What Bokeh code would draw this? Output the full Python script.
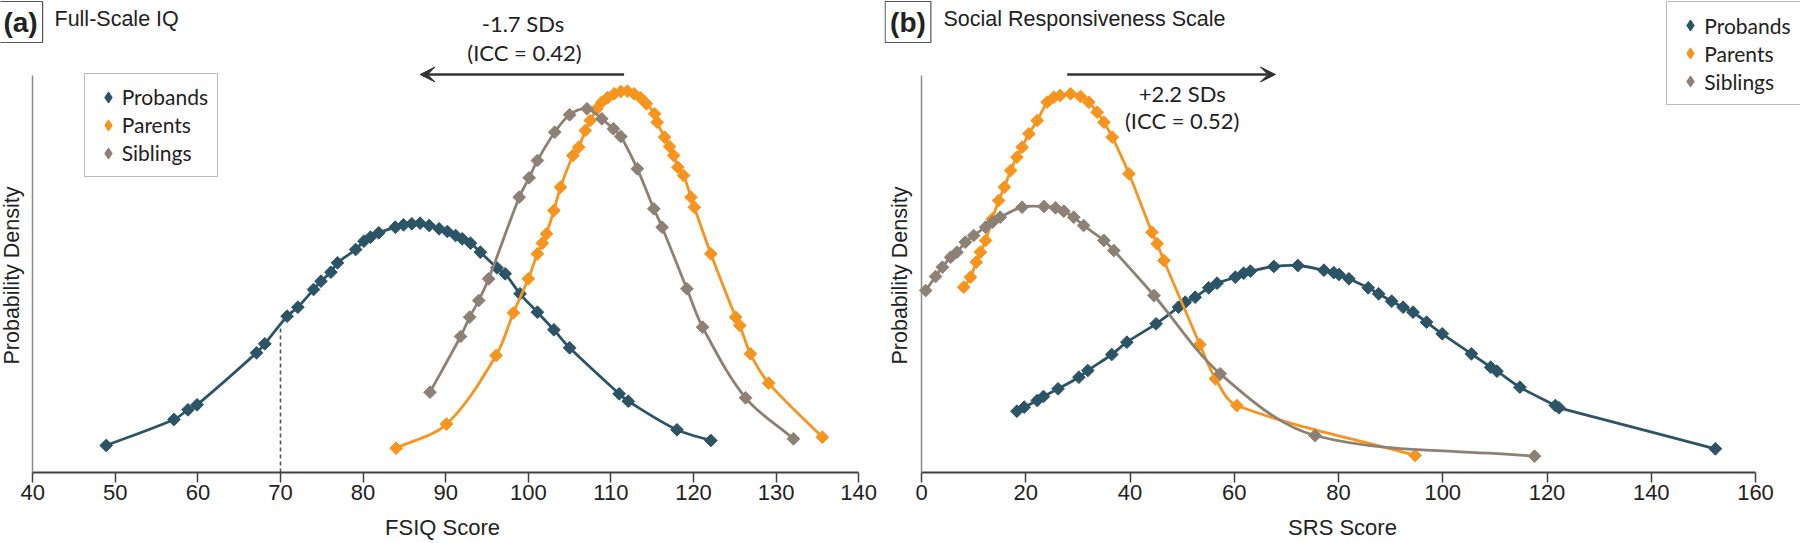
import numpy as np
from bokeh.plotting import figure
from bokeh.layouts import row
from bokeh.models import (Range1d, FixedTicker, Label, Arrow, VeeHead, Legend, LegendItem,
                          ColumnDataSource, CDSView, IndexFilter)
from bokeh.embed import file_html
from bokeh.resources import INLINE

# ---------------- data ----------------
# Panel (a) Full-Scale IQ
fsiq_probands_x = [48.9, 57.1, 58.8, 59.9, 67.1, 68.1, 70.8, 72.1, 74.0, 74.9, 76.1, 76.9, 79.1, 80.1,
                   80.9, 81.9, 83.9, 84.9, 85.9, 86.9, 88.0, 89.2, 90.2, 91.2, 92.0, 93.0, 94.2, 96.2,
                   97.2, 99.0, 101.1, 103.1, 105.0, 111.0, 112.1, 118.0, 122.1]
fsiq_probands_y = [27, 53, 62.7, 67.7, 119.7, 128.7, 156.3, 165.3, 183, 191.3, 200.3, 209.7, 223, 231.3,
                   235.3, 239.7, 245.3, 247.7, 248.7, 249.3, 247, 243.7, 241, 237, 233.7, 229.3, 220.3, 204.7,
                   198.7, 178.7, 160.3, 142.7, 124.7, 78.7, 71.3, 42.7, 32]
fsiq_parents_x = [84.0, 90.1, 96.1, 98.2, 100.0, 101.1, 101.7, 102.2, 103.1, 103.9, 105.4, 106.1, 106.9,
                  107.5, 108.3, 108.9, 109.6, 110.4, 111.2, 112.0, 112.8, 113.6, 114.3, 115.3, 115.6, 116.5,
                  117.1, 117.6, 118.1, 118.8, 119.7, 120.1, 122.1, 125.1, 125.6, 126.9, 129.1, 135.6]
fsiq_parents_y = [24.3, 48.4, 117, 159.7, 193.7, 218.7, 229.3, 238.7, 262, 285.3, 317, 325.3, 342,
                  352, 363.7, 370.3, 374.7, 378.7, 381, 381.3, 378.7, 374.7, 368.7, 358.7, 350.3, 335.3,
                  326, 317, 305.3, 297, 275.3, 265.3, 218.7, 155.3, 147, 118.7, 89.3, 35.3]
fsiq_siblings_x = [88.1, 91.8, 92.9, 94.0, 95.2, 98.9, 100.1, 101.1, 103.2, 105.0, 107.1, 108.9, 110.3,
                   111.2, 113.2, 115.2, 116.2, 119.2, 121.1, 126.3, 132.1]
fsiq_siblings_y = [80.3, 136, 155.3, 172, 193.7, 275.3, 294.7, 312, 340.3, 357.7, 363.7, 353.7, 343.7,
                   336, 303.7, 263.7, 245.3, 183.7, 145.3, 74.7, 33.7]
fsiq_cutoff_x = 70
fsiq_cutoff_y = 146
fsiq_shift = (111.6, 86.9)          # arrow from parents' mean toward probands' mean

# Panel (b) Social Responsiveness Scale
srs_probands_x = [18.3, 19.7, 22.2, 23.4, 26.2, 30.2, 31.9, 36.5, 39.4, 45.0, 49.3, 50.6, 52.5, 55.1,
                  56.7, 60.2, 61.8, 63.1, 67.6, 72.2, 77.2, 79.1, 80.1, 82.0, 85.7, 87.7, 90.2, 92.4,
                  94.3, 96.9, 99.9, 105.5, 109.2, 110.4, 114.8, 121.6, 122.3, 152.3]
srs_probands_y = [61.3, 65.3, 72, 76, 83.7, 95.3, 102, 118, 130.3, 148.7, 165.3, 170.3, 175.3, 184.7,
                  189.3, 195.3, 199.3, 201.3, 206, 207, 202.3, 199.8, 198, 193.7, 184.7, 178.7, 171.3, 165.3,
                  160.3, 150.3, 138.7, 118.7, 105.3, 101.3, 85.3, 67, 64.7, 23.7]
srs_parents_x = [8.1, 9.4, 10.5, 11.3, 12.3, 13.6, 14.8, 15.9, 17.1, 18.3, 19.3, 20.6, 22.2, 24.1, 25.4,
                 26.6, 28.6, 30.5, 32.1, 33.7, 35.0, 36.6, 39.8, 44.2, 45.2, 46.5, 53.4, 56.4, 60.5, 94.7]
srs_parents_y = [185.3, 195.3, 210.3, 220.3, 232, 253.7, 272, 285.3, 302, 315.3, 325.3, 338.7, 352, 370.3,
                 375.3, 377, 378.7, 376, 370.3, 360.3, 350.3, 335.3, 298.7, 240.3, 228.7, 212, 128, 93.7,
                 67, 17]
srs_siblings_x = [0.8, 2.7, 4.0, 5.6, 6.8, 8.4, 10.0, 12.3, 13.6, 15.1, 19.3, 23.5, 25.7, 27.3, 29.2, 31.1,
                  35.0, 36.9, 44.6, 57.3, 75.5, 117.6]
srs_siblings_y = [182, 196, 205.3, 215.3, 220.3, 230.3, 237, 245.3, 250.3, 255.3, 265.3, 266, 264.7, 261.3,
                  255.3, 247, 232, 222, 177, 98.7, 37, 16.3]
srs_shift = (27.95, 67.9)

fsiq_ticks = [40, 50, 60, 70, 80, 90, 100, 110, 120, 130, 140]
srs_ticks = [0, 20, 40, 60, 80, 100, 120, 140, 160]
groups = ["Probands", "Parents", "Siblings"]

# ---------------- styling / layout ----------------
TEAL, ORANGE, GREY = "#2b5566", "#f7941d", "#8c8174"
COLORS = [TEAL, ORANGE, GREY]
H = 543
AXIS_Y = 472               # pixel row of the x axis
Y_TOP = AXIS_Y             # 1 unit per pixel; frame spans whole canvas height above the axis
Y_AXIS_TOP = 397
ARROW_Y = 398
TXT = "#222222"


def bezier_params(xs, ys, kx, ky=1.0):
    x = np.asarray(xs, float)
    y = np.asarray(ys, float)
    X, Y = x * kx, y * ky
    d = np.maximum(np.hypot(np.diff(X), np.diff(Y)), 1e-6)
    n = len(X)
    tx = np.empty(n)
    ty = np.empty(n)
    tx[1:-1] = (X[2:] - X[:-2]) / (d[:-1] + d[1:])
    ty[1:-1] = (Y[2:] - Y[:-2]) / (d[:-1] + d[1:])
    tx[0], ty[0] = (X[1] - X[0]) / d[0], (Y[1] - Y[0]) / d[0]
    tx[-1], ty[-1] = (X[-1] - X[-2]) / d[-1], (Y[-1] - Y[-2]) / d[-1]
    cx0 = X[:-1] + tx[:-1] * d / 3
    cy0 = Y[:-1] + ty[:-1] * d / 3
    cx1 = X[1:] - tx[1:] * d / 3
    cy1 = Y[1:] - ty[1:] * d / 3
    return dict(x0=x[:-1], y0=y[:-1], x1=x[1:], y1=y[1:],
                cx0=cx0 / kx, cy0=cy0 / ky, cx1=cx1 / kx, cy1=cy1 / ky)


class Panel:
    def __init__(self, width, left_px, x0, kx, ticks, xlabel, series):
        # left_px: canvas pixel (within this figure) of data value x0; kx: px per unit
        self.left_px, self.x0, self.kx = left_px, x0, kx
        xr = (self.dx(0), self.dx(width))
        p = figure(width=width, height=H, x_range=Range1d(*xr), y_range=Range1d(0, Y_TOP),
                   output_backend="svg", toolbar_location=None,
                   min_border_left=0, min_border_right=0, min_border_top=0,
                   min_border_bottom=H - AXIS_Y)
        p.outline_line_color = None
        p.grid.visible = False
        xa = p.xaxis[0]
        xa.ticker = FixedTicker(ticks=ticks)
        xa.bounds = (ticks[0], ticks[-1])
        xa.axis_line_color = "#404040"
        xa.axis_line_width = 2
        xa.major_tick_line_color = "#404040"
        xa.major_tick_line_width = 1.5
        xa.major_tick_out = 10
        xa.major_tick_in = 0
        xa.minor_tick_out = 0
        xa.minor_tick_in = 0
        xa.major_label_standoff = 2
        xa.major_label_text_font = "Liberation Sans"
        xa.major_label_text_font_size = "22px"
        xa.major_label_text_color = TXT
        xa.axis_label = xlabel
        xa.axis_label_text_font = "Liberation Sans"
        xa.axis_label_text_font_size = "22px"
        xa.axis_label_text_font_style = "normal"
        xa.axis_label_text_color = TXT
        xa.axis_label_standoff = 12
        ya = p.yaxis[0]
        ya.fixed_location = ticks[0]
        ya.ticker = FixedTicker(ticks=[])
        ya.bounds = (0, Y_AXIS_TOP)
        ya.axis_line_color = "#8a8a8a"
        ya.axis_line_width = 1.5
        ya.major_tick_out = 0
        ya.major_tick_in = 0
        ya.minor_tick_out = 0
        ya.minor_tick_in = 0
        ya.major_label_standoff = 0
        ya.major_label_text_font_size = "0px"
        self.p = p
        self.items = []
        for (xs, ys), col, name in zip(series, COLORS, groups):
            p.bezier(line_color=col, line_width=2.8, **bezier_params(xs, ys, kx))
            src = ColumnDataSource(dict(x=xs, y=ys))
            # legend key (a diamond hidden under the first marker of the series)
            key = p.scatter("x", "y", source=src, view=CDSView(filter=IndexFilter(indices=[0])),
                            marker="diamond", size=11, fill_color=col, line_color=col, line_width=1)
            p.scatter("x", "y", source=src, marker="square", angle=np.pi / 4, size=9,
                      fill_color=col, line_color=col, line_width=1)
            self.items.append(LegendItem(label=name, renderers=[key]))

    def dx(self, px):
        return self.x0 + (px - self.left_px) / self.kx

    @staticmethod
    def dy(py):
        return AXIS_Y - py

    def text(self, px, py, text, font="Lato", size="22px", align="center", style="normal",
             angle=0.0, box=False):
        kw = {}
        if box:
            kw = dict(border_line_color="#555555", border_line_width=1.2, padding=5)
        self.p.add_layout(Label(x=self.dx(px), y=self.dy(py), text=text, text_font=font,
                                text_font_size=size, text_color=TXT, text_align=align,
                                text_baseline="middle", text_font_style=style, angle=angle, **kw))

    def legend(self, left_px, bottom_py):
        lg = Legend(items=self.items, location=(left_px, AXIS_Y - bottom_py), orientation="vertical",
                    glyph_width=28, glyph_height=28, label_height=28, spacing=0, padding=9, margin=0,
                    label_standoff=-2, label_text_font="Lato", label_text_font_size="21px",
                    label_text_color=TXT, border_line_color="#777777", border_line_width=1.5,
                    background_fill_color="white", background_fill_alpha=1.0)
        self.p.add_layout(lg)

    def arrow(self, x_start, x_end):
        self.p.add_layout(Arrow(x_start=x_start, y_start=ARROW_Y, x_end=x_end, y_end=ARROW_Y,
                                line_color="#333333", line_width=2.5,
                                end=VeeHead(size=15, fill_color="#333333", line_color="#333333")))


# ---------------- panel (a) ----------------
A = Panel(884, 32.2, 40, 8.26, fsiq_ticks, "FSIQ Score",
          [(fsiq_probands_x, fsiq_probands_y), (fsiq_parents_x, fsiq_parents_y),
           (fsiq_siblings_x, fsiq_siblings_y)])
A.p.segment(x0=[fsiq_cutoff_x], y0=[0], x1=[fsiq_cutoff_x], y1=[fsiq_cutoff_y],
            line_dash="4 3", line_color="#555555", line_width=1.6)
A.arrow(*fsiq_shift)
A.legend(83.7, 176.7)
A.text(522.5, 23.3, "-1.7 SDs")
A.text(524, 51.7, "(ICC = 0.42)")
A.text(20, 21.5, "(a)", font="Liberation Sans", size="28px", style="bold", box=True)
A.text(54, 18.3, "Full-Scale IQ", font="Liberation Sans", size="21.5px", align="left")
A.text(11, 275, "Probability Density", font="Liberation Sans", size="21.5px", angle=np.pi / 2)

# ---------------- panel (b) ----------------
B = Panel(916, 921 - 884, 0, 5.2125, srs_ticks, "SRS Score",
          [(srs_probands_x, srs_probands_y), (srs_parents_x, srs_parents_y),
           (srs_siblings_x, srs_siblings_y)])
B.arrow(*srs_shift)
B.legend(1666.3 - 884, 105)
B.text(1181.7 - 884, 93.3, "+2.2 SDs")
B.text(1181.7 - 884, 120, "(ICC = 0.52)")
B.text(907.5 - 884, 21.5, "(b)", font="Liberation Sans", size="28px", style="bold", box=True)
B.text(943 - 884, 18.3, "Social Responsiveness Scale", font="Liberation Sans", size="21.5px", align="left")
B.text(899 - 884, 275, "Probability Density", font="Liberation Sans", size="21.5px", angle=np.pi / 2)

layout = row(A.p, B.p)
open("out.html", "w").write(file_html(layout, INLINE))
